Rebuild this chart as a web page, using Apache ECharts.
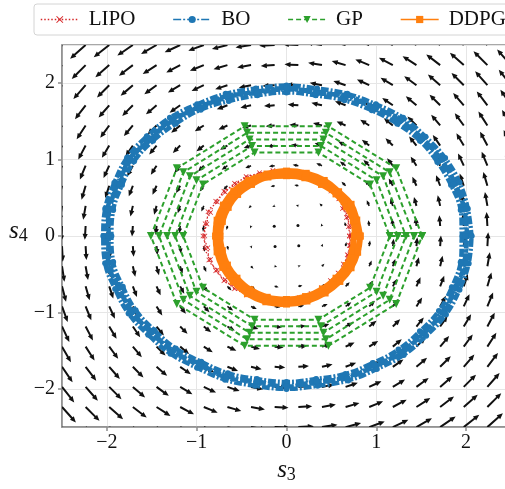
<!DOCTYPE html>
<html>
<head>
<meta charset="utf-8">
<script src="https://cdn.jsdelivr.net/npm/echarts@6.0.0/dist/echarts.min.js"></script>
<style>
  html, body { margin: 0; padding: 0; background: #fff; overflow: hidden; }
  /* the reference is cut a few pixels short on the right, so the chart is a bit wider than the window */
  #chart { width: 511px; height: 489px; }
</style>
</head>
<body>
<div id="chart"></div>
<script>
const FONT = 'Liberation Serif, Times New Roman, serif';

// quiver grid (20 points per axis) and the flow read at each row / column
const quiverAxis = [-2.5, -2.237, -1.974, -1.711, -1.447, -1.184, -0.921, -0.658, -0.395, -0.132,
  0.132, 0.395, 0.658, 0.921, 1.184, 1.447, 1.711, 1.974, 2.237, 2.5];
// horizontal flow for each row (same order as quiverAxis), vertical flow for each column
const rowU = [2.5, 2.237, 1.974, 1.711, 1.447, 1.184, 0.921, 0.658, 0.395, 0.132,
  -0.132, -0.395, -0.658, -0.921, -1.184, -1.447, -1.711, -1.974, -2.237, -2.5];
const colV = [-2.5, -2.237, -1.974, -1.711, -1.447, -1.184, -0.921, -0.658, -0.395, -0.132,
  0.132, 0.395, 0.658, 0.921, 1.184, 1.447, 1.711, 1.974, 2.237, 2.5];

// trajectories, read as radius at fixed angles (degrees)
const angles36 = [0, 10, 20, 30, 40, 50, 60, 70, 80, 90, 100, 110, 120, 130, 140, 150, 160, 170,
  180, 190, 200, 210, 220, 230, 240, 250, 260, 270, 280, 290, 300, 310, 320, 330, 340, 350];
const angles24 = [0, 15, 30, 45, 60, 75, 90, 105, 120, 135, 150, 165, 180, 195, 210, 225, 240, 255,
  270, 285, 300, 315, 330, 345];

const lipoLap1 = [0.70, 0.72, 0.71, 0.74, 0.76, 0.79, 0.80, 0.82, 0.83, 0.85, 0.86, 0.88, 0.88, 0.90, 0.89, 0.91,
  0.90, 0.92, 0.91, 0.92, 0.90, 0.91, 0.89, 0.90, 0.88, 0.88, 0.85, 0.86, 0.82, 0.82, 0.78, 0.78, 0.75, 0.75, 0.72, 0.72];
const lipoLap2 = [0.72, 0.70, 0.73, 0.72, 0.77, 0.77, 0.81, 0.80, 0.84, 0.83, 0.87, 0.86, 0.90, 0.88, 0.91, 0.89,
  0.93, 0.90, 0.93, 0.89, 0.92, 0.89, 0.91, 0.88, 0.89, 0.86, 0.87, 0.84, 0.83, 0.80, 0.80, 0.76, 0.76, 0.73, 0.73, 0.71];

const boLap1 = [2.01, 2.01, 2.00, 1.99, 1.98, 1.97, 1.95, 1.93, 1.92, 1.92, 1.92, 1.93, 1.95, 1.97, 1.99, 2.00,
  2.00, 2.00, 2.00, 2.00, 1.99, 1.98, 1.97, 1.96, 1.95, 1.95, 1.95, 1.95, 1.95, 1.96, 1.97, 1.98, 1.99, 2.00, 2.01, 2.01];
const boLap2 = [1.96, 1.97, 1.95, 1.94, 1.94, 1.92, 1.90, 1.89, 1.87, 1.88, 1.87, 1.88, 1.91, 1.92, 1.94, 1.96,
  1.95, 1.96, 1.95, 1.96, 1.94, 1.94, 1.92, 1.92, 1.90, 1.91, 1.90, 1.91, 1.90, 1.92, 1.92, 1.94, 1.94, 1.96, 1.96, 1.97];
const boLap3 = [2.06, 2.05, 2.05, 2.04, 2.02, 2.02, 1.99, 1.98, 1.96, 1.97, 1.96, 1.98, 1.99, 2.02, 2.03, 2.05,
  2.04, 2.05, 2.04, 2.05, 2.03, 2.03, 2.01, 2.01, 1.99, 2.00, 1.99, 2.00, 1.99, 2.01, 2.01, 2.03, 2.03, 2.05, 2.05, 2.06];
const boLap4 = [1.99, 2.03, 1.98, 2.01, 1.96, 1.99, 1.93, 1.96, 1.90, 1.94, 1.90, 1.95, 1.93, 1.99, 1.97, 2.02,
  1.98, 2.02, 1.98, 2.02, 1.97, 2.00, 1.95, 1.98, 1.93, 1.97, 1.93, 1.97, 1.93, 1.98, 1.95, 2.00, 1.97, 2.02, 1.99, 2.03];

// GP visits ten vertices per lap, laps shrink slowly
const gpAngles = [0, 36, 72, 108, 144, 180, 216, 252, 288, 324];
const gpLapRadii = [1.51, 1.42, 1.33, 1.24, 1.15];

const ddpgLap1 = [0.76, 0.77, 0.77, 0.78, 0.78, 0.79, 0.79, 0.80, 0.78, 0.77, 0.75, 0.74, 0.74, 0.74, 0.76, 0.78,
  0.81, 0.83, 0.83, 0.82, 0.80, 0.78, 0.77, 0.76];
const ddpgLap2 = [0.82, 0.81, 0.83, 0.82, 0.84, 0.85, 0.85, 0.84, 0.84, 0.83, 0.81, 0.80, 0.79, 0.80, 0.82, 0.84,
  0.87, 0.89, 0.89, 0.88, 0.86, 0.84, 0.83, 0.82];

const legendNames = ['LIPO', 'BO', 'GP', 'DDPG'];

function ring(angles, radii) {
  const pts = angles.map((a, i) => [
    radii[i] * Math.cos(a * Math.PI / 180),
    radii[i] * Math.sin(a * Math.PI / 180)
  ]);
  pts.push(pts[0]);
  return pts;
}

const lipoData = ring(angles36, lipoLap1).concat(ring(angles36, lipoLap2));
const boData = ring(angles36, boLap1).concat(ring(angles36, boLap2), ring(angles36, boLap3), ring(angles36, boLap4));
let gpData = [];
gpLapRadii.forEach(r => { gpData = gpData.concat(ring(gpAngles, gpAngles.map(() => r))); });
const ddpgData = ring(angles24, ddpgLap1).concat(ring(angles24, ddpgLap2));

const quiverData = [];
quiverAxis.forEach((y, j) => {
  quiverAxis.forEach((x, i) => {
    quiverData.push([x, y, rowU[j], colV[i]]);
  });
});

const arrowScale = 6.2; // px per unit of flow
function renderArrow(params, api) {
  const tail = api.coord([api.value(0), api.value(1)]);
  const dx = api.value(2) * arrowScale;
  const dy = -api.value(3) * arrowScale;
  const len = Math.hypot(dx, dy);
  if (len < 2.5) {
    return { type: 'circle', shape: { cx: tail[0] + dx / 2, cy: tail[1] + dy / 2, r: 1.5 }, style: { fill: '#111' } };
  }
  const ux = dx / len, uy = dy / len;
  const nx = -uy, ny = ux;
  let s = 1;
  if (len < 9) s = Math.max(0.5, len / 9);
  const sw = 1.0 * Math.max(s, 0.8), hw = 2.6 * s, hl = 6 * s;
  const b = len - hl;
  const P = (along, side) => [tail[0] + ux * along + nx * side, tail[1] + uy * along + ny * side];
  return {
    type: 'polygon',
    shape: { points: [P(0, sw), P(b, sw), P(b, hw), P(len, 0), P(b, -hw), P(b, -sw), P(0, -sw)] },
    style: { fill: '#111' }
  };
}

const tickFmt = v => (v < 0 ? '\u2212' + Math.abs(v) : String(v));
const axisName = {
  rich: {
    s: { fontFamily: FONT, fontStyle: 'italic', fontSize: 25, color: '#111', padding: [0, 0, 9, 0] },
    sub: { fontFamily: FONT, fontSize: 18, color: '#111' }
  }
};
const axisLineStyle = { color: '#8c8c8c', width: 1.5 };
const splitStyle = { color: '#e6e6e6', width: 1 };

const chart = echarts.init(document.getElementById('chart'));
chart.setOption({
  animation: false,
  grid: { left: 62, top: 45, right: 0, bottom: 55, show: true, borderColor: '#8c8c8c', borderWidth: 1.5 },
  legend: {
    data: legendNames,
    left: 34, top: 4, width: 640,
    padding: [5, 6],
    itemGap: 37, itemWidth: 38, itemHeight: 9,
    backgroundColor: '#fff', borderColor: '#d4d4d4', borderWidth: 1, borderRadius: 3,
    textStyle: { fontFamily: FONT, fontSize: 21, color: '#111', padding: [0, 0, 0, 5] },
    lineStyle: { width: 1.5 }
  },
  xAxis: {
    type: 'value', min: -2.5, max: 2.5,
    name: '{s|s}{sub|3}', nameLocation: 'middle', nameGap: 24, nameTextStyle: axisName,
    axisLine: { onZero: false, lineStyle: axisLineStyle },
    axisTick: { length: 4, lineStyle: axisLineStyle },
    axisLabel: { showMinLabel: false, showMaxLabel: false, margin: 6, fontFamily: FONT, fontSize: 20, color: '#111', formatter: tickFmt },
    splitLine: { lineStyle: splitStyle }
  },
  yAxis: {
    type: 'value', min: -2.5, max: 2.5,
    name: '{s|s}{sub|4}', nameLocation: 'middle', nameRotate: 0, nameGap: 34, nameTextStyle: axisName,
    axisLine: { onZero: false, lineStyle: axisLineStyle },
    axisTick: { length: 4, lineStyle: axisLineStyle },
    axisLabel: { showMinLabel: false, showMaxLabel: false, margin: 7, fontFamily: FONT, fontSize: 20, color: '#111', formatter: tickFmt },
    splitLine: { lineStyle: splitStyle }
  },
  series: [
    {
      type: 'custom', name: 'field', z: 1, clip: true, silent: true,
      renderItem: renderArrow, data: quiverData
    },
    {
      name: 'LIPO', type: 'line', z: 3, data: lipoData, smooth: 0.4,
      symbol: 'path://M1,0L5,4L9,0L10,1L6,5L10,9L9,10L5,6L1,10L0,9L4,5L0,1Z', symbolSize: 5,
      itemStyle: { color: '#d62728' },
      lineStyle: { color: '#d62728', width: 1.2, type: [1.5, 2] }
    },
    {
      name: 'BO', type: 'line', z: 3, data: boData, smooth: 0.4,
      symbol: 'circle', symbolSize: 6,
      itemStyle: { color: '#1f77b4' },
      lineStyle: { color: '#1f77b4', width: 4.5, type: [8, 2, 2, 2] }
    },
    {
      name: 'GP', type: 'line', z: 3, data: gpData,
      symbol: 'triangle', symbolSize: 8, symbolRotate: 180,
      itemStyle: { color: '#2ca02c' },
      lineStyle: { color: '#2ca02c', width: 2, type: [5, 3] }
    },
    {
      name: 'DDPG', type: 'line', z: 4, data: ddpgData, smooth: 0.4,
      symbol: 'rect', symbolSize: 7,
      itemStyle: { color: '#ff7f0e' },
      lineStyle: { color: '#ff7f0e', width: 6 }
    }
  ]
});
</script>
</body>
</html>
